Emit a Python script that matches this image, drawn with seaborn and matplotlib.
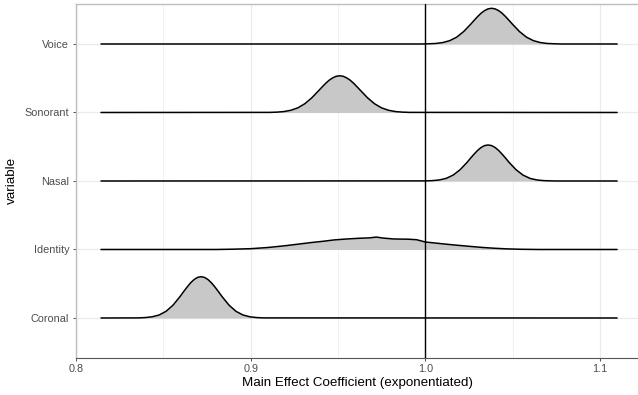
"""
Ridgeline of exponentiated main-effect coefficients per variable
"""

import numpy as np
import matplotlib.pyplot as plt
import seaborn as sns

# Ridge data (x = coefficient, h = density height)
variables = ['Coronal', 'Identity', 'Nasal', 'Sonorant', 'Voice']
x_range = [0.8143, 1.1099]

coronal_x = [0.8356, 0.8396, 0.8436, 0.8476, 0.8516, 0.8556, 0.8596, 0.8616, 0.8636, 0.8656,
             0.8676, 0.8696, 0.8716, 0.8736, 0.8756, 0.8776, 0.8796, 0.8816, 0.8836, 0.8876,
             0.8916, 0.8956, 0.8996, 0.9036, 0.9076]
coronal_h = [0.1, 0.4, 1.2, 3.0, 6.7, 12.9, 21.5, 26.3, 30.9, 35.1,
             38.4, 40.6, 41.3, 40.6, 38.4, 35.1, 30.9, 26.3, 21.5, 12.9,
             6.7, 3.0, 1.2, 0.4, 0.1]

identity_x = [0.880, 0.890, 0.900, 0.910, 0.920, 0.928, 0.935, 0.942, 0.948, 0.955,
              0.962, 0.968, 0.972, 0.976, 0.982, 0.990, 0.995, 1.000, 1.006, 1.012,
              1.018, 1.025, 1.033, 1.040, 1.047, 1.055, 1.065]
identity_h = [0.0, 0.3, 0.8, 2.0, 3.8, 5.5, 7.0, 8.3, 9.6, 10.5,
              11.2, 11.6, 12.4, 11.4, 10.5, 10.3, 9.8, 7.5, 6.4, 5.3,
              4.3, 3.2, 2.0, 1.2, 0.6, 0.2, 0.0]

nasal_x = [1.000, 1.004, 1.008, 1.012, 1.016, 1.020, 1.024, 1.026, 1.028, 1.030,
           1.032, 1.034, 1.036, 1.038, 1.040, 1.042, 1.044, 1.046, 1.048, 1.052,
           1.056, 1.060, 1.064, 1.068, 1.072, 1.076]
nasal_h = [0.1, 0.35, 1.0, 2.6, 5.9, 11.3, 18.7, 22.9, 26.9, 30.6,
           33.5, 35.4, 36.0, 35.4, 33.5, 30.6, 26.9, 22.9, 18.7, 11.3,
           5.9, 2.6, 1.0, 0.35, 0.1, 0.0]

sonorant_x = [0.911, 0.915, 0.919, 0.923, 0.927, 0.931, 0.935, 0.939, 0.941, 0.943,
              0.945, 0.947, 0.949, 0.951, 0.953, 0.955, 0.957, 0.959, 0.961, 0.963,
              0.967, 0.971, 0.975, 0.979, 0.983, 0.987, 0.991]
sonorant_h = [0.1, 0.35, 0.9, 2.2, 4.6, 8.7, 14.6, 21.9, 25.6, 29.2,
              32.3, 34.6, 36.2, 36.7, 36.2, 34.6, 32.3, 29.2, 25.6, 21.9,
              14.6, 8.7, 4.6, 2.2, 0.9, 0.35, 0.1]

voice_x = [0.998, 1.002, 1.006, 1.010, 1.014, 1.018, 1.022, 1.026, 1.028, 1.030,
           1.032, 1.034, 1.036, 1.038, 1.040, 1.042, 1.044, 1.046, 1.048, 1.050,
           1.054, 1.058, 1.062, 1.066, 1.070, 1.074, 1.078]
voice_h = [0.0, 0.2, 0.5, 1.4, 3.3, 6.8, 12.4, 19.7, 23.6, 27.4,
           30.8, 33.4, 35.1, 35.7, 35.1, 33.4, 30.8, 27.4, 23.6, 19.7,
           12.4, 6.8, 3.3, 1.4, 0.5, 0.2, 0.0]

ridges = {
    'Coronal': (coronal_x, coronal_h),
    'Identity': (identity_x, identity_h),
    'Nasal': (nasal_x, nasal_h),
    'Sonorant': (sonorant_x, sonorant_h),
    'Voice': (voice_x, voice_h),
}

# density units -> row units (one row = 68.5 density units tall)
height_scale = 1 / 68.5

sns.set_theme(style="white")
plt.rcParams['font.family'] = ['Liberation Sans', 'DejaVu Sans']

fig = plt.figure(figsize=(6.38, 3.95), dpi=100)
ax = fig.add_axes([75.5 / 638, 37 / 395, (640 - 75.5) / 638, 354.5 / 395])

# grid
for gx in [0.85, 0.95, 1.05]:
    ax.axvline(gx, color='#EBEBEB', lw=0.5, zorder=0)
for gx in [0.8, 0.9, 1.0, 1.1]:
    ax.axvline(gx, color='#EBEBEB', lw=0.9, zorder=0)
for i in range(len(variables)):
    ax.axhline(i + 1, color='#EBEBEB', lw=0.9, zorder=0)

for i, name in enumerate(variables):
    xs, hs = ridges[name]
    xs = np.array([x_range[0]] + list(xs) + [x_range[1]])
    hs = np.array([0.0] + list(hs) + [0.0])
    base = i + 1
    top = base + hs * height_scale
    ax.fill_between(xs, base, top, color='#C8C8C8', lw=0, zorder=2 + i)
    sns.lineplot(x=xs, y=top, ax=ax, color='black', lw=1.1, sort=False,
                 estimator=None, zorder=2.5 + i)

ax.axvline(1.0, color='black', lw=1.0, zorder=20)

ax.set_xlim(0.7997, 1.1230)
ax.set_ylim(0.416, 5.591)
ax.set_xticks([0.8, 0.9, 1.0, 1.1])
ax.set_xticklabels(['0.8', '0.9', '1.0', '1.1'])
ax.set_yticks(range(1, len(variables) + 1))
ax.set_yticklabels(variables)
ax.tick_params(axis='both', labelsize=7.8, labelcolor='#4D4D4D', color='#333333',
               length=2.5, width=0.6, pad=2, left=True, bottom=True)

ax.set_xlabel('Main Effect Coefficient (exponentiated)', fontsize=9.6, color='black', labelpad=2)
ax.set_ylabel('variable', fontsize=9.6, color='black', labelpad=5)

for side in ['top', 'left']:
    ax.spines[side].set_color('#BDBDBD')
    ax.spines[side].set_linewidth(1.0)
ax.spines['bottom'].set_color('#555555')
ax.spines['bottom'].set_linewidth(0.8)
ax.spines['right'].set_visible(False)

plt.savefig('out.png', dpi=100)
plt.close()
